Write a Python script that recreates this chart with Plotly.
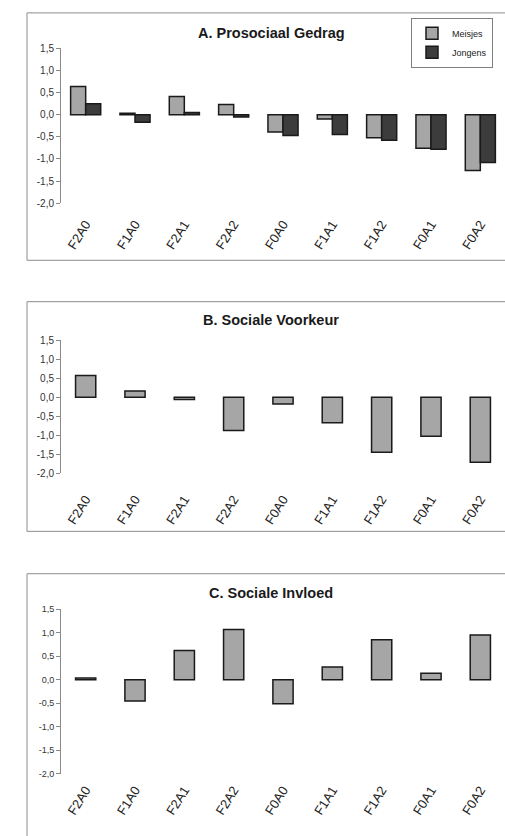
import plotly.graph_objects as go

categories = ["F2A0", "F1A0", "F2A1", "F2A2", "F0A0", "F1A1", "F1A2", "F0A1", "F0A2"]

prosociaal_meisjes = [0.64, 0.03, 0.41, 0.23, -0.39, -0.10, -0.52, -0.76, -1.26]
prosociaal_jongens = [0.25, -0.17, 0.05, -0.05, -0.47, -0.45, -0.58, -0.78, -1.08]
sociale_voorkeur = [0.57, 0.16, -0.06, -0.88, -0.18, -0.67, -1.45, -1.03, -1.71]
sociale_invloed = [0.04, -0.45, 0.62, 1.07, -0.51, 0.27, 0.85, 0.14, 0.95]

panel_titles = ["A. Prosociaal Gedrag", "B. Sociale Voorkeur", "C. Sociale Invloed"]
series_names = ["Meisjes", "Jongens"]

y_tickvals = [-2.0, -1.5, -1.0, -0.5, 0.0, 0.5, 1.0, 1.5]
y_ticktext = ["-2,0", "-1,5", "-1,0", "-0,5", "0,0", "0,5", "1,0", "1,5"]

W, H = 505, 836
LIGHT = "#a6a6a6"
DARK = "#3c3c3c"
EDGE = "#1a1a1a"
AXIS = "#8a8a8a"
FONT = "Liberation Sans, Arial, sans-serif"

# panel geometry in pixels (top, bottom of plotting area; title y; box top/bottom)
panels = [
    dict(top=43, bottom=200, title_y=27, box=(7, 258), tick_size=10, standoff=10),
    dict(top=339, bottom=474, title_y=319, box=(300, 533), tick_size=10, standoff=15),
    dict(top=612, bottom=779, title_y=596, box=(576, 900), tick_size=9, standoff=5),
]

def py(px):
    return 1 - px / H

fig = go.Figure()

bar_line = dict(color=EDGE, width=1.5)

fig.add_trace(go.Bar(x=categories, y=prosociaal_meisjes, name=series_names[0],
                     marker=dict(color=LIGHT, line=bar_line), xaxis="x", yaxis="y",
                     legendgroup="m"))
fig.add_trace(go.Bar(x=categories, y=prosociaal_jongens, name=series_names[1],
                     marker=dict(color=DARK, line=bar_line), xaxis="x", yaxis="y",
                     legendgroup="j"))
fig.add_trace(go.Bar(x=categories, y=sociale_voorkeur, name="Sociale Voorkeur",
                     marker=dict(color=LIGHT, line=bar_line), xaxis="x2", yaxis="y2",
                     width=0.41, showlegend=False))
fig.add_trace(go.Bar(x=categories, y=sociale_invloed, name="Sociale Invloed",
                     marker=dict(color=LIGHT, line=bar_line), xaxis="x3", yaxis="y3",
                     width=0.41, showlegend=False))

ymin, ymax = y_tickvals[0], y_tickvals[-1]
n = len(categories)
x_dom = [61 / W, 1.0]
layout = {}
shapes = []
annotations = []
for i, p in enumerate(panels):
    k = i + 1
    sfx = "" if k == 1 else str(k)
    d0, d1 = py(p["bottom"]), py(p["top"])
    layout["yaxis" + sfx] = dict(
        domain=[d0, d1], range=[ymin, ymax], anchor="x" + sfx,
        tickvals=y_tickvals, ticktext=y_ticktext,
        showline=True, linecolor=AXIS, linewidth=1,
        ticks="outside", ticklen=4, tickcolor=AXIS,
        showgrid=False, zeroline=False,
        tickfont=dict(family=FONT, size=p["tick_size"], color="#333333"),
    )
    layout["xaxis" + sfx] = dict(
        domain=x_dom, anchor="y" + sfx, type="category",
        categoryorder="array", categoryarray=categories,
        range=[-0.5, n - 0.5],
        showline=False, ticks="", showgrid=False, zeroline=False,
        tickangle=-58, ticklabelstandoff=p["standoff"],
        tickfont=dict(family=FONT, size=13, color="#222222"),
    )
    # category axis crossing at zero with tick marks at category boundaries
    zero_pos = d0 + (0 - ymin) / (ymax - ymin) * (d1 - d0)
    layout["xaxis" + str(k + 3)] = dict(
        overlaying="x" + sfx, anchor="free", position=zero_pos,
        range=[-0.5, n - 0.5], tickvals=[j + 0.5 for j in range(n)],
        showticklabels=False, ticks="outside", ticklen=4, tickcolor=AXIS,
        showline=True, linecolor=AXIS, linewidth=1, showgrid=False, zeroline=False,
    )
    shapes.append(dict(type="rect", xref="paper", yref="paper",
                       x0=27 / W, x1=1.05, y0=py(p["box"][1]), y1=py(p["box"][0]),
                       line=dict(color="#8c8c8c", width=1), layer="below"))
    annotations.append(dict(text="<b>" + panel_titles[i] + "</b>", xref="paper", yref="paper",
                            x=271 / W, y=py(p["title_y"]), xanchor="center", yanchor="middle",
                            showarrow=False, font=dict(family=FONT, size=14.5, color="#1a1a1a")))

fig.update_layout(
    width=W, height=H,
    margin=dict(l=0, r=0, t=0, b=0),
    paper_bgcolor="white", plot_bgcolor="rgba(0,0,0,0)",
    barmode="group", bargap=0.39, bargroupgap=0,
    showlegend=True,
    legend=dict(x=493 / W, y=py(12), xanchor="right", yanchor="top",
                bordercolor="#808080", borderwidth=1, bgcolor="white",
                font=dict(family=FONT, size=9, color="#222222"),
                itemwidth=30, tracegroupgap=0, traceorder="grouped"),
    shapes=shapes, annotations=annotations,
    **layout,
)

fig.write_html("out.html", config={"displayModeBar": False},
               post_script="document.body.style.margin='0';")
